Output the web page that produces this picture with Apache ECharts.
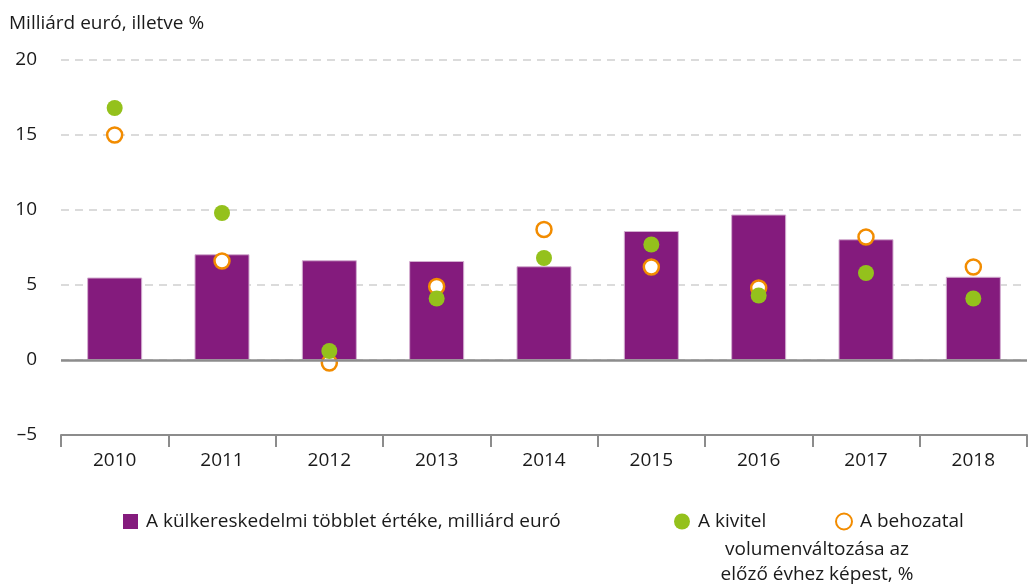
<!DOCTYPE html>
<html>
<head>
<meta charset="utf-8">
<script src="https://cdn.jsdelivr.net/npm/echarts@6/dist/echarts.min.js"></script>
<style>
  html, body { margin: 0; padding: 0; background: #fff; }
  #chart { width: 1035px; height: 588px; }
</style>
</head>
<body>
<div id="chart"></div>
<script>
  // adatok
  var years = ['2010', '2011', '2012', '2013', '2014', '2015', '2016', '2017', '2018'];
  var surplus = [5.5, 7.05, 6.65, 6.6, 6.25, 8.6, 9.7, 8.05, 5.55];
  var exportVol = [16.8, 9.8, 0.6, 4.1, 6.8, 7.7, 4.3, 5.8, 4.1];
  var importVol = [15.0, 6.6, -0.2, 4.9, 8.7, 6.2, 4.8, 8.2, 6.2];
  var yTicks = [-5, 0, 5, 10, 15, 20];

  var font = 'Open Sans';
  var fs = 19;
  var txt = '#1a1a1a';
  var purple = '#841b7d', green = '#94c11c', orange = '#f28c00';

  var chart = echarts.init(document.getElementById('chart'));
  var legendText = { fontSize: fs, color: txt, fontFamily: font, padding: [0, 0, 0, 3] };
  var option = {
    animation: false,
    textStyle: { fontFamily: font, color: txt },
    grid: { left: 61, right: 8, top: 60, bottom: 153 },
    title: {
      text: 'Milliárd euró, illetve %',
      left: 4, top: 9,
      textStyle: { fontFamily: font, fontSize: fs, fontWeight: 'normal', color: txt }
    },
    legend: [{
      left: 118, top: 507,
      itemWidth: 15, itemHeight: 15,
      textStyle: legendText,
      data: [{ name: 'A külkereskedelmi többlet értéke, milliárd euró', icon: 'rect', itemStyle: { borderWidth: 0 } }]
    }, {
      left: 669, top: 507,
      itemWidth: 16, itemHeight: 16,
      textStyle: legendText,
      data: ['A kivitel']
    }, {
      left: 830, top: 507,
      itemWidth: 16, itemHeight: 16,
      textStyle: legendText,
      data: ['A behozatal']
    }],
    graphic: [{
      type: 'text',
      x: 817, y: 537,
      style: {
        text: 'volumenváltozása az\nelőző évhez képest, %',
        font: fs + 'px "Open Sans"',
        fill: txt,
        align: 'center',
        verticalAlign: 'top',
        lineHeight: 25
      }
    }],
    xAxis: {
      type: 'category',
      data: years,
      axisLine: { onZero: false, lineStyle: { color: '#8c8c8c', width: 2 } },
      axisTick: { show: true, length: 12, lineStyle: { color: '#8c8c8c', width: 2 } },
      axisLabel: { fontSize: fs, color: txt, margin: 16 }
    },
    yAxis: {
      type: 'value',
      min: yTicks[0], max: yTicks[yTicks.length - 1], interval: 5,
      axisLine: { show: false },
      axisTick: { show: false },
      axisLabel: {
        fontSize: fs, color: txt, margin: 24,
        formatter: function (v) { return v < 0 ? '–' + Math.abs(v) : v; }
      },
      splitLine: { lineStyle: { color: '#d0d0d0', type: [8, 6], width: 1.5 } }
    },
    series: [{
      name: 'A külkereskedelmi többlet értéke, milliárd euró',
      type: 'bar',
      data: surplus,
      barWidth: 55,
      itemStyle: { color: purple, borderColor: '#d3aed0', borderWidth: 1 },
      markLine: {
        silent: true, symbol: 'none', label: { show: false },
        lineStyle: { color: '#8c8c8c', type: 'solid', width: 2.5 },
        data: [{ yAxis: 0 }]
      }
    }, {
      name: 'A behozatal',
      type: 'scatter',
      data: importVol,
      symbolSize: 15,
      itemStyle: { color: '#fff', borderColor: orange, borderWidth: 2.5, opacity: 1 },
      z: 3
    }, {
      name: 'A kivitel',
      type: 'scatter',
      data: exportVol,
      symbolSize: 16,
      itemStyle: { color: green, opacity: 1 },
      z: 4
    }]
  };
  chart.setOption(option);
</script>
</body>
</html>
